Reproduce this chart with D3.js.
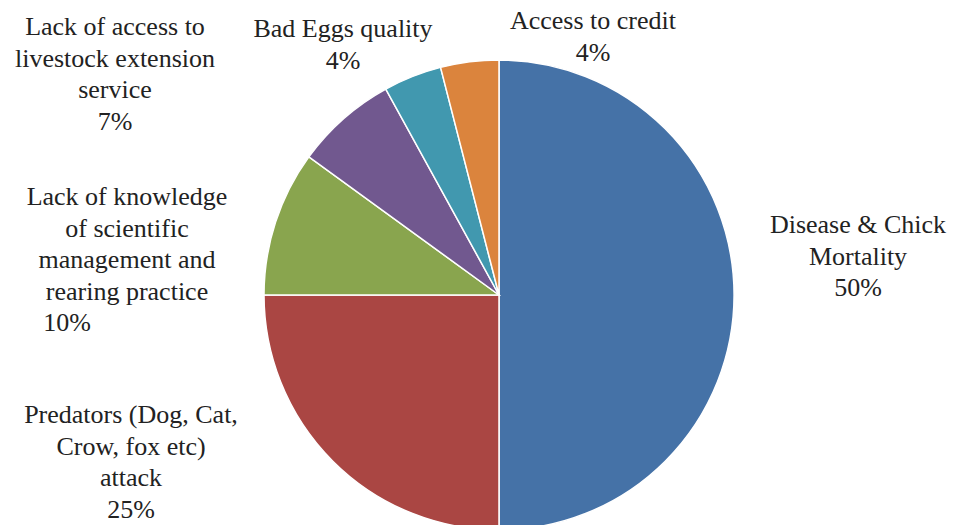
<!DOCTYPE html>
<html><head><meta charset="utf-8">
<script src="https://cdn.jsdelivr.net/npm/d3@7"></script>
</head><body style="margin:0">
<script>
const categories = [
  "Disease & Chick Mortality",
  "Predators (Dog, Cat, Crow, fox etc) attack",
  "Lack of knowledge of scientific management and rearing practice",
  "Lack of access to livestock extension service",
  "Bad Eggs quality",
  "Access to credit"
];
const values = [50, 25, 10, 7, 4, 4];
const colors = ["#4572a7", "#aa4643", "#89a54e", "#71588f", "#4198af", "#db843d"];
const labelLines = [
  ["Disease & Chick", "Mortality"],
  ["Predators (Dog, Cat,", "Crow, fox etc)", "attack"],
  ["Lack of knowledge", "of scientific", "management and", "rearing practice"],
  ["Lack of access to", "livestock extension", "service"],
  ["Bad Eggs quality"],
  ["Access to credit"]
];
// label anchor (center x, first baseline y) and optional separate pct x
const labelPos = [
  {x: 858, y: 233},
  {x: 131, y: 423},
  {x: 127, y: 205, px: 67},
  {x: 115, y: 35},
  {x: 343, y: 37},
  {x: 593, y: 29}
];

const W = 955, H = 525;
const cx = 499, cy = 295, R = 235;
const svg = d3.select("body").append("svg").attr("width", W).attr("height", H)
  .style("display", "block");

const pie = d3.pie().sort(null).value(d => d)(values);
const arc = d3.arc().innerRadius(0).outerRadius(R);
const g = svg.append("g").attr("transform", `translate(${cx},${cy})`);
g.selectAll("path").data(pie).join("path")
  .attr("d", arc)
  .attr("fill", (d, i) => colors[i])
  .attr("stroke", "#fff")
  .attr("stroke-width", 1.5);

const lh = 31.5;
labelPos.forEach((p, i) => {
  const lines = labelLines[i].concat([values[i] + "%"]);
  lines.forEach((ln, j) => {
    const last = j === lines.length - 1;
    const t = svg.append("text")
      .attr("x", last && p.px != null ? p.px : p.x)
      .attr("y", p.y + j * lh)
      .attr("font-size", 26)
      .attr("font-family", "Liberation Serif")
      .attr("fill", "#222")
      .attr("text-anchor", "middle")
      .text(ln);
    t.node().style.setProperty("font-family", '"Liberation Serif", serif', "important");
  });
});
</script>
</body></html>
